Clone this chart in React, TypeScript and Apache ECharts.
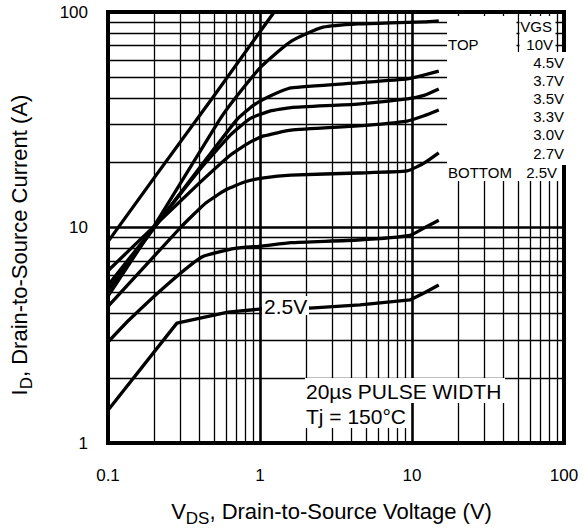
import React, { useEffect, useRef } from 'react';
import * as echarts from 'echarts';

const FONT = '"Liberation Sans", Arial, Helvetica, sans-serif';

// Gate-to-source voltage of each curve, top to bottom
const vgsLabels = ['10V', '4.5V', '3.7V', '3.5V', '3.3V', '3.0V', '2.7V', '2.5V'];

// Output characteristics at Tj = 150 °C: [VDS (V), ID (A)]
const curve10V = [[0.1, 8.6], [0.2, 16.9], [0.5, 41], [1.0, 81], [1.24, 100]];
const curve4V5 = [[0.1, 4.8], [0.2, 10.1], [0.54, 31.5], [0.69, 40], [1.0, 55], [1.3, 65], [1.6, 73], [2.0, 79], [2.6, 85], [4.4, 88], [7.2, 89], [12, 90], [15, 91]];
const curve3V7 = [[0.1, 5.1], [0.2, 9.9], [0.7, 31.5], [0.9, 36.8], [1.13, 40.3], [1.6, 44.4], [4.4, 46.9], [9.3, 48.9], [12, 51], [15, 53.2]];
const curve3V5 = [[0.1, 5.4], [0.2, 10], [0.4, 18.5], [0.64, 26.9], [0.86, 32], [1.16, 34.7], [1.6, 36], [4.4, 37.4], [9.3, 39.5], [12, 41], [15, 43.9]];
const curve3V3 = [[0.1, 6.3], [0.2, 10.1], [0.4, 16.1], [0.64, 21.7], [0.86, 24.9], [1.06, 26.6], [1.6, 28.3], [4.4, 29.6], [9.3, 31.2], [12, 33], [15, 35.1]];
const curve3V0 = [[0.1, 4.3], [0.3, 10], [0.44, 13], [0.6, 15], [0.8, 16.3], [1.06, 17], [1.6, 17.5], [4.4, 17.9], [9.3, 18.3], [12, 19.9], [15, 22.2]];
const curve2V7 = [[0.1, 2.94], [0.1375, 3.72], [0.25, 5.5], [0.415, 7.3], [0.685, 8.0], [1.03, 8.2], [1.6, 8.5], [4.4, 8.75], [9.7, 9.2], [12, 9.95], [15, 10.8]];
const curve2V5 = [[0.1, 1.42], [0.284, 3.6], [0.616, 4.05], [1.03, 4.19], [2.13, 4.23], [4.55, 4.37], [9.7, 4.61], [12, 4.97], [15, 5.41]];

const curves = [curve10V, curve4V5, curve3V7, curve3V5, curve3V3, curve3V0, curve2V7, curve2V5];

const xTickLabels = ['0.1', '1', '10', '100'];
const yTickLabels = ['1', '10', '100'];

// Minor grid positions of the log-log paper (2..9 in every decade)
const minorSteps = [2, 3, 4, 5, 6, 7, 8, 9];
const xMinor = [0.1, 1, 10].flatMap((d) => minorSteps.map((k) => +(k * d).toPrecision(3)));
const yMinor = [1, 10].flatMap((d) => minorSteps.map((k) => +(k * d).toPrecision(3)));

const tickFormatter = (labels: string[]) => (v: number) =>
  labels.find((t) => Math.abs(Math.log10(+t) - Math.log10(v)) < 0.01) ?? '';

const text = (x: number, y: number, str: string, size: number, align: string, extra: any = {}) => ({
  type: 'text',
  z: 101,
  x,
  y,
  silent: true,
  style: { text: str, fontSize: size, fontFamily: FONT, fill: '#000', align, verticalAlign: 'middle' },
  ...extra,
});

const rect = (x: number, y: number, w: number, h: number) => ({
  type: 'rect',
  z: 100,
  silent: true,
  shape: { x, y, width: w, height: h },
  style: { fill: '#fff' },
});

const titleRich = {
  m: { fontSize: 22, fontFamily: FONT, fill: '#000', lineHeight: 26, verticalAlign: 'top' },
  s: { fontSize: 17, fontFamily: FONT, fill: '#000', lineHeight: 17, padding: [10, 0, 0, 0], verticalAlign: 'top' },
};

export default function App() {
  const ref = useRef<HTMLDivElement>(null);

  useEffect(() => {
    if (!ref.current) return;
    const chart = echarts.init(ref.current, undefined, { renderer: 'svg' });

    const legendRows = vgsLabels.slice(1, 7).map((label, i) => text(564, 62 + i * 18.2, label, 15, 'right'));

    const option: any = {
      animation: false,
      backgroundColor: '#fff',
      grid: {
        left: 108,
        right: 19,
        top: 12,
        bottom: 86,
        show: true,
        borderColor: '#000',
        borderWidth: 4,
        backgroundColor: 'transparent',
        containLabel: false,
        outerBoundsMode: 'none',
      },
      xAxis: {
        type: 'log',
        logBase: 10,
        min: 0.1,
        max: 100,
        axisLine: { show: false },
        axisTick: { show: false },
        splitLine: { show: true, lineStyle: { color: '#000', width: 2.6 } },
        axisLabel: {
          fontSize: 17,
          fontFamily: FONT,
          color: '#000',
          margin: 24,
          showMinLabel: true,
          showMaxLabel: true,
          formatter: tickFormatter(xTickLabels),
        },
      },
      yAxis: {
        type: 'log',
        logBase: 10,
        min: 1,
        max: 100,
        axisLine: { show: false },
        axisTick: { show: false },
        splitLine: { show: true, lineStyle: { color: '#000', width: 2.6 } },
        axisLabel: {
          fontSize: 17,
          fontFamily: FONT,
          color: '#000',
          margin: 20,
          showMinLabel: true,
          showMaxLabel: true,
          formatter: tickFormatter(yTickLabels),
        },
      },
      series: [
        {
          type: 'line',
          data: [],
          silent: true,
          markLine: {
            silent: true,
            symbol: ['none', 'none'],
            label: { show: false },
            emphasis: { disabled: true },
            lineStyle: { color: '#000', width: 1.3, type: 'solid' },
            data: [...xMinor.map((v) => ({ xAxis: v })), ...yMinor.map((v) => ({ yAxis: v }))],
          },
        },
        ...curves.map((pts, i) => ({
          type: 'line',
          name: vgsLabels[i],
          data: pts,
          showSymbol: false,
          symbol: 'none',
          silent: true,
          smooth: i === 0 || i === 7 ? false : 0.15,
          lineStyle: { color: '#000', width: 3.3, join: 'round' },
          emphasis: { disabled: true },
        })),
      ],
      graphic: [
        // white panel holding the VGS list
        rect(447, 16, 69.5, 36),
        rect(519.5, 16, 36, 36),
        rect(447, 52, 120, 113),
        rect(447, 165, 112, 16),
        text(552, 26, 'VGS', 15, 'right'),
        text(448, 44, 'TOP', 15, 'left'),
        text(553, 44, vgsLabels[0], 15, 'right'),
        ...legendRows,
        text(448, 172, 'BOTTOM', 15, 'left'),
        text(557, 172, vgsLabels[7], 15, 'right'),
        // curve tag on the lowest curve
        rect(262, 296, 47, 19),
        text(264, 306, vgsLabels[7], 21, 'left'),
        // test conditions
        rect(305, 378, 200, 25),
        rect(305, 403, 104, 25),
        text(306, 391, '20µs PULSE WIDTH', 21, 'left'),
        text(306, 416, 'Tj = 150°C', 21, 'left'),
        // axis titles
        {
          type: 'text',
          z: 101,
          x: 331.5,
          y: 500,
          silent: true,
          style: {
            text: '{m|V}{s|DS}{m|, Drain-to-Source Voltage (V)}',
            rich: titleRich,
            fill: '#000',
            align: 'center',
            verticalAlign: 'top',
          },
        },
        {
          type: 'text',
          z: 101,
          x: 8,
          y: 245,
          rotation: Math.PI / 2,
          silent: true,
          style: {
            text: '{m|I}{s|D}{m|, Drain-to-Source Current (A)}',
            rich: titleRich,
            fill: '#000',
            align: 'center',
            verticalAlign: 'top',
          },
        },
      ],
    };

    chart.setOption(option);
    return () => chart.dispose();
  }, []);

  return (
    <div
      ref={ref}
      style={{ position: 'absolute', left: 0, top: 0, width: 583, height: 529, background: '#fff' }}
    />
  );
}
